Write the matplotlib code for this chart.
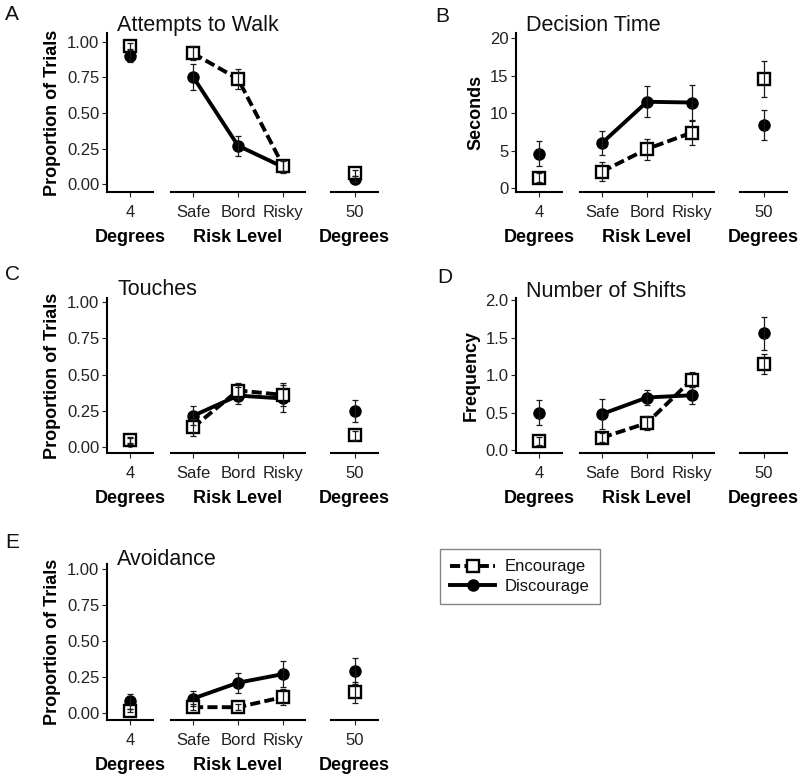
import matplotlib
matplotlib.use('Agg')
import matplotlib.pyplot as plt
from matplotlib.lines import Line2D

plt.rcParams['font.family'] = ['Liberation Sans', 'DejaVu Sans']

# ---------------- data ----------------
# order of each list: [4 deg, Safe, Bord, Risky, 50 deg]
risk_levels = ['Safe', 'Bord', 'Risky']
low_label = '4'
high_label = '50'
series_names = ['Encourage', 'Discourage']

attempts_enc = [0.97, 0.92, 0.74, 0.13, 0.08]
attempts_enc_se = [0.02, 0.05, 0.07, 0.04, 0.02]
attempts_dis = [0.90, 0.755, 0.27, 0.12, 0.035]
attempts_dis_se = [0.04, 0.09, 0.07, 0.04, 0.02]

dtime_enc = [1.4, 2.2, 5.2, 7.4, 14.5]
dtime_enc_se = [0.6, 1.3, 1.4, 1.7, 2.4]
dtime_dis = [4.6, 6.0, 11.5, 11.4, 8.4]
dtime_dis_se = [1.7, 1.65, 2.05, 2.4, 2.0]

touches_enc = [0.05, 0.135, 0.39, 0.36, 0.08]
touches_enc_se = [0.02, 0.06, 0.055, 0.08, 0.03]
touches_dis = [0.04, 0.215, 0.355, 0.335, 0.25]
touches_dis_se = [0.02, 0.065, 0.06, 0.09, 0.077]

shifts_enc = [0.12, 0.165, 0.36, 0.94, 1.15]
shifts_enc_se = [0.05, 0.06, 0.09, 0.10, 0.135]
shifts_dis = [0.50, 0.48, 0.70, 0.73, 1.555]
shifts_dis_se = [0.165, 0.20, 0.105, 0.11, 0.22]

avoid_enc = [0.015, 0.04, 0.04, 0.11, 0.145]
avoid_enc_se = [0.01, 0.02, 0.02, 0.058, 0.073]
avoid_dis = [0.08, 0.10, 0.21, 0.27, 0.29]
avoid_dis_se = [0.05, 0.055, 0.068, 0.092, 0.092]

prop_ticks = [0.0, 0.25, 0.5, 0.75, 1.0]
prop_ticklabels = ['0.00', '0.25', '0.50', '0.75', '1.00']
sec_ticks = [0, 5, 10, 15, 20]
sec_ticklabels = ['0', '5', '10', '15', '20']
freq_ticks = [0.0, 0.5, 1.0, 1.5, 2.0]
freq_ticklabels = ['0.0', '0.5', '1.0', '1.5', '2.0']

panels = [
    dict(letter='A', title='Attempts to Walk', ylabel='Proportion of Trials',
         enc=attempts_enc, enc_se=attempts_enc_se, dis=attempts_dis, dis_se=attempts_dis_se,
         yt=prop_ticks, ytl=prop_ticklabels),
    dict(letter='B', title='Decision Time', ylabel='Seconds',
         enc=dtime_enc, enc_se=dtime_enc_se, dis=dtime_dis, dis_se=dtime_dis_se,
         yt=sec_ticks, ytl=sec_ticklabels),
    dict(letter='C', title='Touches', ylabel='Proportion of Trials',
         enc=touches_enc, enc_se=touches_enc_se, dis=touches_dis, dis_se=touches_dis_se,
         yt=prop_ticks, ytl=prop_ticklabels),
    dict(letter='D', title='Number of Shifts', ylabel='Frequency',
         enc=shifts_enc, enc_se=shifts_enc_se, dis=shifts_dis, dis_se=shifts_dis_se,
         yt=freq_ticks, ytl=freq_ticklabels),
    dict(letter='E', title='Avoidance', ylabel='Proportion of Trials',
         enc=avoid_enc, enc_se=avoid_enc_se, dis=avoid_dis, dis_se=avoid_dis_se,
         yt=prop_ticks, ytl=prop_ticklabels),
]

# ---------------- layout (pixels) ----------------
W, H = 800, 778
geom = [
    dict(left=107, top=33, bottom=192, ylim=(-0.056, 1.063), lx=5, ly=20, tb=31),
    dict(left=516, top=33, bottom=192, ylim=(-0.53, 20.67), lx=435, ly=22, tb=31),
    dict(left=107, top=298, bottom=453, ylim=(-0.041, 1.028), lx=5, ly=280, tb=295),
    dict(left=516, top=298, bottom=453, ylim=(-0.04, 2.027), lx=437, ly=283, tb=297),
    dict(left=107, top=564, bottom=720, ylim=(-0.049, 1.035), lx=5, ly=548, tb=565),
]
sub_spans = [(0, 46), (64, 198), (224, 271)]

fig = plt.figure(figsize=(W / 100, H / 100), dpi=100)

INK = 'black'
TICKC = '#222222'
LW = 2.8
DASH = (0, (2.6, 1.1))


def add_ax(x0, x1, ytop, ybot):
    return fig.add_axes([x0 / W, 1 - ybot / H, (x1 - x0) / W, (ybot - ytop) / H])


def style(ax, show_y):
    for s in ['top', 'right']:
        ax.spines[s].set_visible(False)
    ax.spines['bottom'].set_linewidth(1.5)
    ax.spines['bottom'].set_color(INK)
    if show_y:
        ax.spines['left'].set_linewidth(1.5)
        ax.spines['left'].set_color(INK)
    else:
        ax.spines['left'].set_visible(False)
        ax.tick_params(axis='y', left=False, labelleft=False)
    ax.tick_params(axis='x', length=3.5, width=0.8, color=TICKC, pad=6,
                   labelsize=12, labelcolor=TICKC)
    ax.tick_params(axis='y', length=3.5, width=0.8, color=TICKC, pad=2,
                   labelsize=12, labelcolor=TICKC)
    ax.set_facecolor('none')


def draw_points(ax, xs, enc, enc_se, dis, dis_se, connect):
    if connect:
        ax.plot(xs, dis, color=INK, lw=LW, zorder=2, solid_capstyle='butt')
        ax.plot(xs, enc, color=INK, lw=LW, ls=DASH, zorder=2, dash_capstyle='butt')
    ax.plot(xs, dis, ls='none', marker='o', ms=8, mfc=INK, mec=INK, zorder=3, clip_on=False)
    ax.plot(xs, enc, ls='none', marker='s', ms=8.8, mfc='white', mec=INK, mew=1.7,
            zorder=4, clip_on=False)
    ax.errorbar(xs, dis, yerr=dis_se, fmt='none', ecolor='#1a1a1a', elinewidth=0.9,
                capsize=2.5, capthick=0.9, zorder=5, clip_on=False)
    ax.errorbar(xs, enc, yerr=enc_se, fmt='none', ecolor='#1a1a1a', elinewidth=0.9,
                capsize=2.5, capthick=0.9, zorder=5, clip_on=False)


for p, g in zip(panels, geom):
    L = g['left']
    axes = [add_ax(L + a, L + b, g['top'], g['bottom']) for a, b in sub_spans]
    ax0, ax1, ax2 = axes
    for i, ax in enumerate(axes):
        style(ax, i == 0)
        ax.set_ylim(*g['ylim'])
        ax.set_yticks(p['yt'])
        ax.set_yticklabels(p['ytl'])
    # low incline
    ax0.set_xlim(-0.5, 0.5)
    draw_points(ax0, [0], p['enc'][:1], p['enc_se'][:1], p['dis'][:1], p['dis_se'][:1], False)
    ax0.set_xticks([0])
    ax0.set_xticklabels([low_label])
    ax0.set_xlabel('Degrees', fontsize=13, fontweight='bold', labelpad=6)
    ax0.set_ylabel(p['ylabel'], fontsize=13, fontweight='bold', labelpad=4)
    # risk levels
    xr = list(range(len(risk_levels)))
    ax1.set_xlim(-0.49, 2.49)
    draw_points(ax1, xr, p['enc'][1:4], p['enc_se'][1:4], p['dis'][1:4], p['dis_se'][1:4], True)
    ax1.set_xticks(xr)
    ax1.set_xticklabels(risk_levels)
    ax1.set_xlabel('Risk Level', fontsize=13, fontweight='bold', labelpad=6)
    # high incline
    ax2.set_xlim(-0.5, 0.5)
    draw_points(ax2, [0], p['enc'][4:], p['enc_se'][4:], p['dis'][4:], p['dis_se'][4:], False)
    ax2.set_xticks([0])
    ax2.set_xticklabels([high_label])
    ax2.set_xlabel('Degrees', fontsize=13, fontweight='bold', labelpad=6)

    fig.text((L + 10) / W, 1 - g['tb'] / H, p['title'], fontsize=15.5, va='baseline',
             ha='left', color='#111111')
    fig.text(g['lx'] / W, 1 - g['ly'] / H, p['letter'], fontsize=15, va='baseline',
             ha='left', color='#111111')

# legend
h_enc = Line2D([], [], color=INK, lw=LW, ls=DASH, marker='s', ms=8.8, mfc='white',
               mec=INK, mew=1.7)
h_dis = Line2D([], [], color=INK, lw=LW, marker='o', ms=8, mfc=INK, mec=INK)
leg = fig.legend([h_enc, h_dis], series_names, loc='upper left',
                 bbox_to_anchor=(440 / W, 1 - 549 / H), borderaxespad=0,
                 frameon=True, fancybox=False, edgecolor='#666666', fontsize=12,
                 handlelength=2.7, handletextpad=0.55, labelspacing=0.25,
                 borderpad=0.62, numpoints=1)
leg.get_frame().set_linewidth(1.0)
for t in leg.get_texts():
    t.set_color('#111111')

fig.savefig('out.png', dpi=100)
